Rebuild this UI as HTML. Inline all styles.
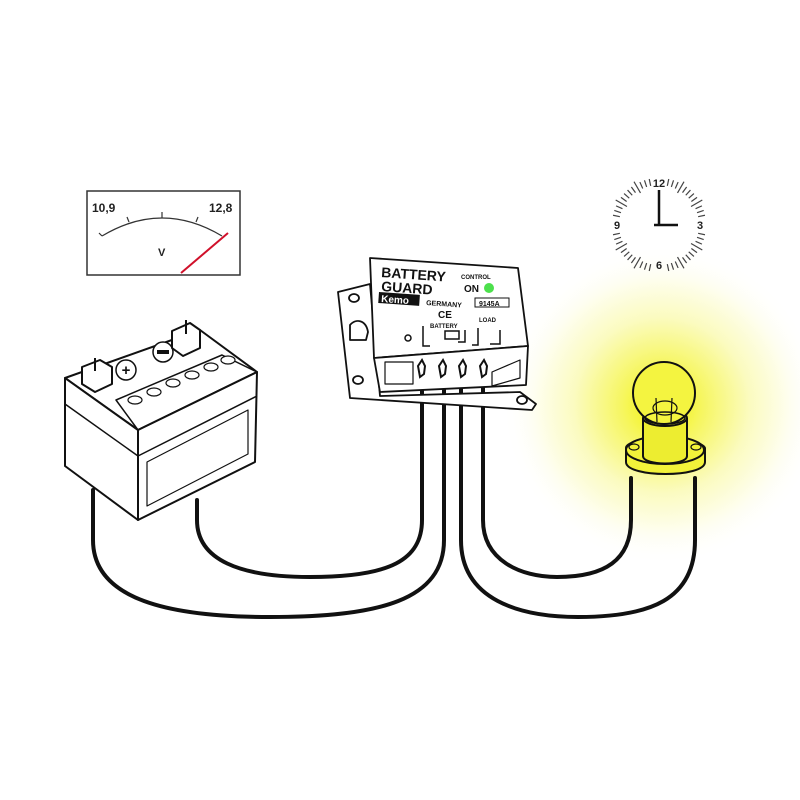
<!DOCTYPE html>
<html><head><meta charset="utf-8"><style>
html,body{margin:0;padding:0;background:#fff;}
svg{display:block;font-family:"Liberation Sans",sans-serif;}
</style></head><body>
<svg width="800" height="800" viewBox="0 0 800 800" xmlns="http://www.w3.org/2000/svg">
<defs>
<radialGradient id="glow" cx="662" cy="405" r="160" gradientUnits="userSpaceOnUse">
<stop offset="0" stop-color="#f2f200"/>
<stop offset="0.25" stop-color="#f6f660"/>
<stop offset="0.55" stop-color="#fbfbc0"/>
<stop offset="0.8" stop-color="#fefef0"/>
<stop offset="1" stop-color="#ffffff" stop-opacity="0"/>
</radialGradient>
</defs>
<rect width="800" height="800" fill="#fff"/>
<circle cx="662" cy="405" r="160" fill="url(#glow)"/>

<!-- wires -->
<g fill="none" stroke="#111" stroke-width="4" stroke-linecap="round">
<path d="M93,490 L93,540 C93,600 170,617 270,617 C380,617 444,600 444,540 L444,380"/>
<path d="M197,500 L197,520 C197,560 240,577 310,577 C390,577 422,560 422,520 L422,380"/>
<path d="M483,380 L483,520 C483,560 520,577 557,577 C605,577 631,560 631,520 L631,478"/>
<path d="M461,380 L461,540 C461,600 520,617 578,617 C650,617 695,600 695,540 L695,478"/>
</g>

<!-- meter -->
<rect x="87" y="191" width="153" height="84" fill="#fff" stroke="#333" stroke-width="1.5"/>
<text x="92" y="212" font-size="12" font-weight="bold" fill="#222">10,9</text>
<text x="209" y="212" font-size="12" font-weight="bold" fill="#222">12,8</text>
<path d="M102,236 Q162,200 222,236" fill="none" stroke="#333" stroke-width="1.3"/>
<g stroke="#333" stroke-width="1.2"><line x1="102" y1="236" x2="99" y2="233"/><line x1="129" y1="222" x2="127" y2="217"/><line x1="162" y1="218" x2="162" y2="212"/><line x1="196" y1="222" x2="198" y2="217"/></g>
<text x="158" y="256" font-size="11" font-weight="bold" fill="#222">V</text>
<line x1="181" y1="273" x2="228" y2="233" stroke="#d0102a" stroke-width="2"/>

<!-- clock -->
<g transform="translate(659,225)" stroke="#444" stroke-width="1.2">
<g id="ticks">
<line x1="0" y1="-47" x2="0" y2="-40" transform="rotate(12)"/><line x1="0" y1="-47" x2="0" y2="-40" transform="rotate(18)"/><line x1="0" y1="-47" x2="0" y2="-40" transform="rotate(24)"/><line x1="0" y1="-50" x2="0" y2="-37" transform="rotate(30)"/><line x1="0" y1="-47" x2="0" y2="-40" transform="rotate(36)"/><line x1="0" y1="-47" x2="0" y2="-40" transform="rotate(42)"/><line x1="0" y1="-47" x2="0" y2="-40" transform="rotate(48)"/><line x1="0" y1="-47" x2="0" y2="-40" transform="rotate(54)"/><line x1="0" y1="-50" x2="0" y2="-37" transform="rotate(60)"/><line x1="0" y1="-47" x2="0" y2="-40" transform="rotate(66)"/><line x1="0" y1="-47" x2="0" y2="-40" transform="rotate(72)"/><line x1="0" y1="-47" x2="0" y2="-40" transform="rotate(78)"/>
</g>
<use href="#ticks" transform="rotate(90)"/><use href="#ticks" transform="rotate(180)"/><use href="#ticks" transform="rotate(270)"/>
<line x1="0" y1="0" x2="0" y2="-35" stroke="#111" stroke-width="2.5"/>
<line x1="-5" y1="0" x2="19" y2="0" stroke="#111" stroke-width="2.5"/>
</g>
<g font-size="11" font-weight="bold" fill="#222" text-anchor="middle">
<text x="659" y="187">12</text><text x="700" y="229">3</text><text x="659" y="269">6</text><text x="617" y="229">9</text>
</g>

<!-- battery -->
<g stroke="#111" stroke-width="2" fill="#fff" stroke-linejoin="round">
<polygon points="65,378 200,330 257,372 138,430"/>
<polygon points="65,378 138,430 138,520 65,466"/>
<polygon points="138,430 257,372 255,462 138,520"/>
<polyline points="65,404 138,456 257,396" fill="none" stroke-width="1.5"/>
<polygon points="147,462 248,410 248,454 147,506" fill="none" stroke-width="1.2"/>
<polygon points="116,400 222,355 257,372 138,430" fill="none" stroke-width="1.5"/>
<ellipse cx="135" cy="400" rx="7" ry="4" stroke-width="1.2"/>
<ellipse cx="154" cy="392" rx="7" ry="4" stroke-width="1.2"/>
<ellipse cx="173" cy="383" rx="7" ry="4" stroke-width="1.2"/>
<ellipse cx="192" cy="375" rx="7" ry="4" stroke-width="1.2"/>
<ellipse cx="211" cy="367" rx="7" ry="4" stroke-width="1.2"/>
<ellipse cx="228" cy="360" rx="7" ry="4" stroke-width="1.2"/>
<circle cx="126" cy="370" r="10" stroke-width="1.5"/>
<circle cx="163" cy="352" r="10" stroke-width="1.5"/>
<polygon points="82,367 100,360 112,367 112,384 95,392 82,384"/>
<polygon points="172,331 190,323 200,330 200,348 183,356 172,348"/>
</g>
<text x="126" y="375" font-size="15" font-weight="bold" text-anchor="middle" fill="#111">+</text>
<rect x="157" y="350" width="12" height="4" fill="#111"/>
<line x1="95" y1="371" x2="95" y2="358" stroke="#111" stroke-width="2"/>
<line x1="186" y1="334" x2="186" y2="320" stroke="#111" stroke-width="2"/>

<!-- module -->
<g stroke="#111" stroke-width="1.8" fill="#fff" stroke-linejoin="round">
<polygon points="338,292 370,284 380,396 520,392 536,404 532,410 350,398"/>
<polygon points="370,258 518,268 528,346 374,358"/>
<polygon points="374,358 528,346 526,385 380,392"/>
<rect x="385" y="362" width="28" height="22" fill="none" stroke-width="1.2"/>
<polygon points="492,372 520,360 520,378 492,386" fill="none" stroke-width="1.2"/>
<ellipse cx="354" cy="298" rx="5" ry="4"/><ellipse cx="358" cy="380" rx="5" ry="4"/><ellipse cx="522" cy="400" rx="5" ry="4"/>
<path d="M350,325 C356,318 366,320 368,332 L366,340 L350,340 Z"/>
</g>
<text x="381" y="277" font-size="14" font-weight="bold" fill="#111" transform="rotate(4 381 277)">BATTERY</text>
<text x="381" y="291" font-size="14" font-weight="bold" fill="#111" transform="rotate(4 381 291)">GUARD</text>
<text x="461" y="279" font-size="6" font-weight="bold" fill="#111">CONTROL</text>
<text x="464" y="292" font-size="10" font-weight="bold" fill="#111">ON</text>
<circle cx="489" cy="288" r="5" fill="#4ce04c"/>
<rect x="379" y="292" width="41" height="11" fill="#111" transform="rotate(4 379 292)"/>
<text x="381" y="302" font-size="10" font-weight="bold" fill="#fff" transform="rotate(4 381 302)">Kemo</text>
<text x="426" y="305" font-size="7" font-weight="bold" fill="#111" transform="rotate(4 426 305)">GERMANY</text>
<rect x="475" y="298" width="34" height="9" fill="none" stroke="#111" stroke-width="1"/>
<text x="479" y="306" font-size="7" font-weight="bold" fill="#111">9145A</text>
<text x="438" y="318" font-size="10" font-weight="bold" fill="#111">CE</text>
<text x="430" y="328" font-size="6" font-weight="bold" fill="#111">BATTERY</text>
<text x="479" y="322" font-size="6" font-weight="bold" fill="#111">LOAD</text>
<g fill="none" stroke="#111" stroke-width="1.5">
<polyline points="423,326 423,346 430,346"/><polyline points="465,330 465,342 458,342"/>
<polyline points="478,328 478,345 472,345"/><polyline points="500,330 500,344 490,344"/>
<rect x="445" y="331" width="14" height="8"/>
<circle cx="408" cy="338" r="3"/>
</g>
<g stroke="#111" stroke-width="2" fill="#fff">
<path d="M418,366 l4,-6 l3,6 l-1,8 l-4,3 z"/><path d="M439,366 l4,-6 l3,6 l-1,8 l-4,3 z"/>
<path d="M459,366 l4,-6 l3,6 l-1,8 l-4,3 z"/><path d="M480,366 l4,-6 l3,6 l-1,8 l-4,3 z"/>
</g>

<!-- bulb -->
<g stroke="#111" stroke-width="2" stroke-linejoin="round">
<path d="M626,462 L626,448 C626,436 700,436 705,448 L705,462 C705,478 626,478 626,462 Z" fill="#f2f23a"/>
<ellipse cx="665" cy="450" rx="39" ry="14" fill="#f2f23a"/>
<path d="M643,418 L643,456 C643,466 687,466 687,456 L687,418" fill="#eded30"/>
<ellipse cx="665" cy="418" rx="22" ry="8" fill="#eded30"/>
<circle cx="664" cy="393" r="31" fill="#f4f440"/>
<ellipse cx="665" cy="418" rx="20" ry="6" fill="none" stroke-width="1.5"/>
<ellipse cx="665" cy="408" rx="12" ry="7" fill="none" stroke-width="1.2"/>
<line x1="656" y1="398" x2="657" y2="422" stroke-width="1.2"/><line x1="672" y1="398" x2="671" y2="422" stroke-width="1.2"/>
<ellipse cx="634" cy="447" rx="5" ry="3" fill="none" stroke-width="1.2"/>
<ellipse cx="696" cy="447" rx="5" ry="3" fill="none" stroke-width="1.2"/>
</g>
</svg>
</body></html>
